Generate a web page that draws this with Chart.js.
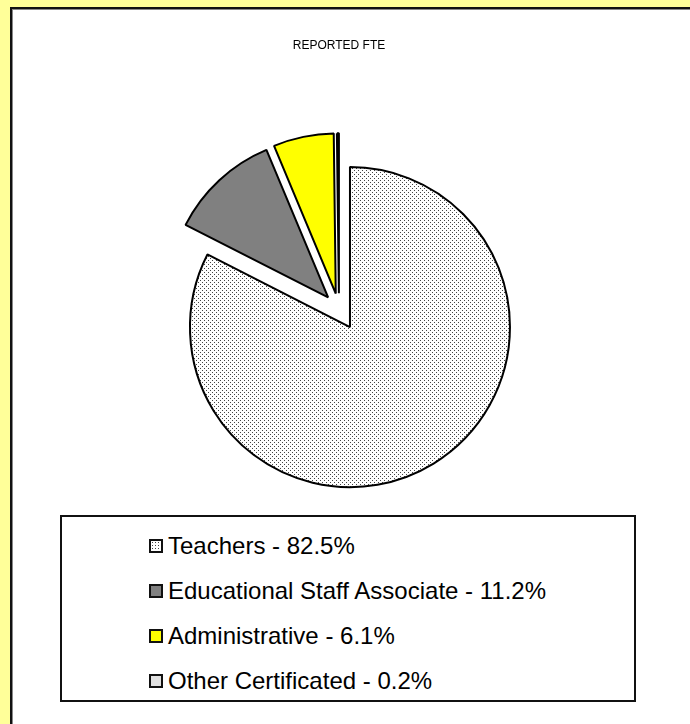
<!DOCTYPE html>
<html>
<head>
<meta charset="utf-8">
<script src="https://cdn.jsdelivr.net/npm/chart.js@4.4.1/dist/chart.umd.min.js"></script>
<style>
  body { margin: 0; background: #ffff99; width: 690px; height: 724px; overflow: hidden; position: relative; font-family: "Liberation Sans", Arial, sans-serif; }
  #panel { position: absolute; left: 10px; top: 7px; width: 720px; height: 760px; background: #fff;
           border-left: 2px solid #111; border-top: 2px solid #111; box-shadow: inset 1px 1px 0 #888; }
  #pie { position: absolute; left: 0; top: 0; }
  #legend { position: absolute; left: 60px; top: 515px; width: 576px; height: 187px; box-sizing: border-box;
            border: 2px solid #111; background: #fff; padding: 6px 0 0 87px; }
  .item { height: 45px; line-height: 45px; font-size: 24px; color: #000; white-space: nowrap; }
  .swatch { display: inline-block; width: 14px; height: 14px; box-sizing: border-box; border: 2px solid #111;
            vertical-align: middle; margin: -3px 5px 0 0; }
</style>
</head>
<body>
<div id="panel"></div>
<canvas id="pie" width="690" height="724"></canvas>
<div id="legend"></div>
<script>
// Categories and their share of reported FTE (percent)
const CATEGORIES = ["Teachers", "Educational Staff Associate", "Administrative", "Other Certificated"];
const SHARES = [82.5, 11.2, 6.1, 0.2];
const TITLE = "REPORTED FTE";

// Dotted fill used for the teachers slice
function dotPattern() {
  let tile = document.createElement("canvas");
  tile.width = 4;
  tile.height = 4;
  let tctx = tile.getContext("2d");
  tctx.fillStyle = "#fff";
  tctx.fillRect(0, 0, 4, 4);
  tctx.fillStyle = "#444";
  tctx.fillRect(0, 0, 1, 1);
  tctx.fillRect(2, 2, 1, 1);
  return tctx.createPattern(tile, "repeat");
}

let fills = [dotPattern(), "#808080", "#ffff00", "#e0e0e0"];

// How far each slice is pulled out from the centre, in pixels
const pullOut = [21, 16, 16, 16];

// Moves every arc along its middle angle after the layout is done
const explodePlugin = {
  id: "explode",
  afterUpdate(chart) {
    let meta = chart.getDatasetMeta(0);
    meta.data.forEach((arc, i) => {
      let mid = (arc.startAngle + arc.endAngle) / 2;
      arc.x += Math.cos(mid) * pullOut[i];
      arc.y += Math.sin(mid) * pullOut[i];
    });
  }
};

let ctx = document.getElementById("pie").getContext("2d");
let chart = new Chart(ctx, {
  type: "pie",
  data: {
    labels: CATEGORIES,
    datasets: [{
      data: SHARES,
      backgroundColor: fills,
      borderColor: "#000",
      borderWidth: 2
    }]
  },
  options: {
    responsive: false,
    animation: false,
    events: [],
    radius: 160,
    layout: { padding: { top: 30, left: 0, right: 12, bottom: 166 } },
    plugins: {
      legend: { display: false },
      tooltip: { enabled: false },
      title: {
        display: true,
        text: TITLE,
        color: "#000",
        font: { family: "'Liberation Sans', Arial, sans-serif", size: 12, weight: "normal" },
        padding: { top: 8, bottom: 8 }
      }
    }
  },
  plugins: [explodePlugin]
});

// Build the boxed legend from the same arrays
let legend = document.getElementById("legend");
CATEGORIES.forEach((name, i) => {
  let row = document.createElement("div");
  row.className = "item";
  let sw = document.createElement("span");
  sw.className = "swatch";
  if (i === 0) {
    sw.style.background = "radial-gradient(circle, #444 0.7px, transparent 0.9px) 0 0 / 3px 3px, #fff";
  } else {
    sw.style.background = fills[i];
  }
  row.appendChild(sw);
  row.appendChild(document.createTextNode(name + " - " + SHARES[i].toFixed(1) + "%"));
  legend.appendChild(row);
});
</script>
</body>
</html>
